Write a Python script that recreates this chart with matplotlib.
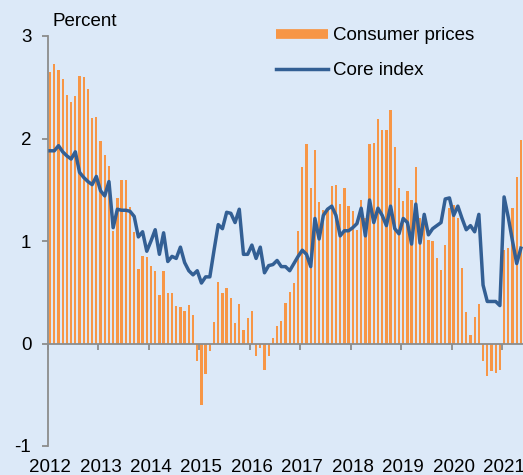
import matplotlib
matplotlib.use("Agg")
import matplotlib.pyplot as plt
from matplotlib.lines import Line2D
import numpy as np

# Monthly values, Jan 2012 - May 2021 (percent)
consumer_prices = [
    2.65, 2.73, 2.67, 2.58, 2.42, 2.36, 2.41, 2.61, 2.60, 2.48, 2.20, 2.21,  # 2012
    1.98, 1.84, 1.73, 1.10, 1.42, 1.60, 1.60, 1.33, 1.09, 0.73, 0.85, 0.84,  # 2013
    0.76, 0.71, 0.47, 0.71, 0.49, 0.49, 0.37, 0.36, 0.32, 0.38, 0.28, -0.17,  # 2014
    -0.60, -0.30, -0.07, 0.21, 0.60, 0.49, 0.54, 0.44, 0.20, 0.39, 0.13, 0.25,  # 2015
    0.32, -0.12, -0.04, -0.26, -0.12, 0.05, 0.17, 0.22, 0.40, 0.50, 0.59, 1.10,  # 2016
    1.72, 1.95, 1.52, 1.89, 1.38, 1.30, 1.30, 1.54, 1.55, 1.36, 1.52, 1.34,  # 2017
    1.29, 1.11, 1.40, 1.22, 1.95, 1.96, 2.19, 2.08, 2.08, 2.28, 1.92, 1.52,  # 2018
    1.39, 1.49, 1.40, 1.72, 1.22, 1.25, 1.01, 1.00, 0.83, 0.72, 0.96, 1.32,  # 2019
    1.35, 1.22, 0.74, 0.31, 0.08, 0.26, 0.39, -0.17, -0.32, -0.27, -0.29, -0.26,  # 2020
    0.91, 0.93, 1.32, 1.62, 1.99,  # 2021
]
core_index = [
    1.88, 1.88, 1.93, 1.87, 1.83, 1.80, 1.87, 1.67, 1.62, 1.58, 1.55, 1.63,  # 2012
    1.49, 1.44, 1.58, 1.13, 1.31, 1.30, 1.30, 1.29, 1.24, 1.04, 1.09, 0.90,  # 2013
    1.00, 1.11, 0.87, 1.08, 0.80, 0.85, 0.83, 0.94, 0.79, 0.71, 0.67, 0.71,  # 2014
    0.59, 0.65, 0.65, 0.91, 1.16, 1.12, 1.28, 1.27, 1.18, 1.31, 0.87, 0.87,  # 2015
    0.96, 0.83, 0.94, 0.69, 0.76, 0.77, 0.81, 0.75, 0.75, 0.71, 0.78, 0.85,  # 2016
    0.91, 0.87, 0.75, 1.22, 1.02, 1.25, 1.31, 1.34, 1.25, 1.05, 1.10, 1.10,  # 2017
    1.13, 1.17, 1.32, 1.05, 1.40, 1.18, 1.32, 1.25, 1.15, 1.34, 1.12, 1.07,  # 2018
    1.22, 1.18, 0.97, 1.36, 0.98, 1.26, 1.06, 1.12, 1.15, 1.18, 1.41, 1.42,  # 2019
    1.25, 1.34, 1.22, 1.11, 1.15, 1.09, 1.26, 0.57, 0.41, 0.41, 0.41, 0.37,  # 2020
    1.43, 1.23, 1.00, 0.78, 0.93,  # 2021
]
years = list(range(2012, 2022))
year_labels = [str(y) for y in years]
y_ticks = [-1, 0, 1, 2, 3]

bg = "#dce9f8"
orange = "#f79646"
blue = "#335f94"
grey = "#8c8c8c"

plt.rcParams["font.family"] = ["Liberation Sans", "DejaVu Sans"]
plt.rcParams["font.size"] = 13.5
plt.rcParams["axes.unicode_minus"] = False

fig = plt.figure(figsize=(5.23, 4.75), dpi=100, facecolor=bg)
ax = fig.add_axes([48 / 523, 1 - 446 / 475, 1 - 48 / 523, 410 / 475])
ax.set_facecolor(bg)

# month centres
x = 2012 + (np.arange(len(consumer_prices)) + 0.5) / 12
ax.bar(x, consumer_prices, width=0.55 / 12, color=orange, zorder=2)
ax.plot(x, core_index, color=blue, lw=2.5, zorder=3)

ax.set_xlim(2012, 2021 + 5 / 12)
ax.set_ylim(-1, 3)

for s in ["top", "right"]:
    ax.spines[s].set_visible(False)
ax.spines["left"].set_color(grey)
ax.spines["left"].set_linewidth(1.3)
ax.spines["bottom"].set_position(("data", 0))
ax.spines["bottom"].set_color(grey)
ax.spines["bottom"].set_linewidth(1.3)
ax.spines["bottom"].set_zorder(4)

ax.set_yticks(y_ticks)
ax.set_xticks(years)
ax.tick_params(axis="y", length=4, width=1.3, color=grey, pad=8)
ax.tick_params(axis="x", length=4, width=1.3, color=grey, labelbottom=False)

# year labels sit under the plot, not at the zero line
for yr, lab in zip(years, year_labels):
    ax.text(yr + 0.04, -1.21, lab, ha="center", va="center", clip_on=False)

fig.text(53 / 523, 1 - 21 / 475, "Percent", va="center", ha="left")

handles = [Line2D([], [], color=orange, lw=7, solid_capstyle="butt"),
           Line2D([], [], color=blue, lw=2.5)]
ax.legend(handles, ["Consumer prices", "Core index"], loc="upper left",
          bbox_to_anchor=(276 / 523, 1 - 27 / 475), bbox_transform=fig.transFigure,
          frameon=False, borderpad=0, borderaxespad=0, handlelength=2.77,
          handletextpad=0.27, labelspacing=0.97)

fig.savefig("out.png", dpi=100, facecolor=bg)
